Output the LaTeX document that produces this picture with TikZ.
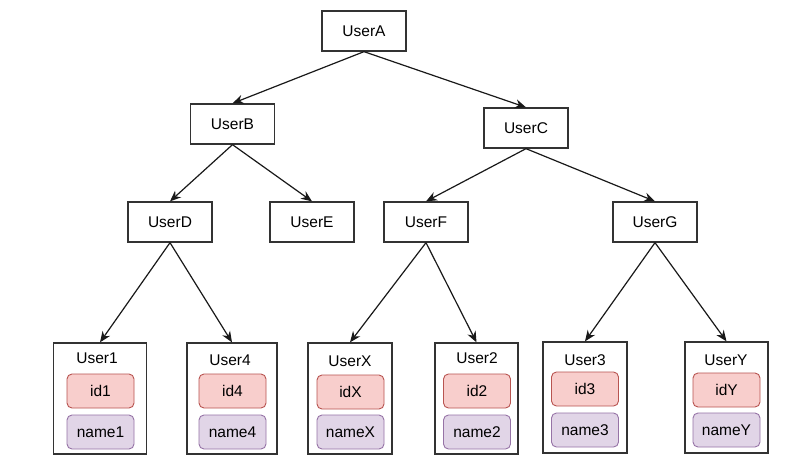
\documentclass[tikz,border=0pt]{standalone}
\usepackage{fontspec}
\setmainfont{Liberation Sans}
\usetikzlibrary{arrows.meta}
\definecolor{idfill}{HTML}{F8CECC}
\definecolor{iddraw}{HTML}{B85450}
\definecolor{nmfill}{HTML}{E1D5E7}
\definecolor{nmdraw}{HTML}{9673A6}
\begin{document}
\begin{tikzpicture}[x=1pt,y=-1pt,
  font=\fontsize{15.5}{18}\selectfont,
  usr/.style={draw=black!80, line width=1.3pt, fill=white, minimum width=84pt, minimum height=40pt, inner sep=0pt},
  leafbox/.style={draw=black!80, line width=1.3pt, fill=white, minimum height=111pt, inner sep=0pt},
  lbl/.style={inner sep=0pt},
  idb/.style={draw=iddraw, fill=idfill, line width=0.9pt, rounded corners=5pt, minimum width=67pt, minimum height=34pt, inner sep=0pt},
  nmb/.style={draw=nmdraw, fill=nmfill, line width=0.9pt, rounded corners=5pt, minimum width=67pt, minimum height=34pt, inner sep=0pt},
  arr/.style={-{Stealth[length=11pt,width=9pt]}, line width=1.2pt, black!90}]
\useasboundingbox[fill=white] (0,0) rectangle (800,472);

% internal nodes
\node[usr] (A) at (364,31) {UserA};
\node[usr] (B) at (232.5,124) {UserB};
\node[usr] (C) at (526,128) {UserC};
\node[usr] (D) at (170,222) {UserD};
\node[usr] (E) at (312,222) {UserE};
\node[usr] (F) at (426,222) {UserF};
\node[usr] (G) at (655,222) {UserG};

% leaves
\node[leafbox, minimum width=93pt] (L1) at (100,398.5) {};
\node[lbl] (L1t) at (97,358) {User1};
\node[idb] (L1i) at (100.5,391) {id1};
\node[nmb] (L1n) at (100.5,432) {name1};

\node[leafbox, minimum width=90pt] (L4) at (232,398.5) {};
\node[lbl] (L4t) at (230,360) {User4};
\node[idb] (L4i) at (232.5,391) {id4};
\node[nmb] (L4n) at (232.5,432) {name4};

\node[leafbox, minimum width=84pt] (LX) at (350,398.5) {};
\node[lbl] (LXt) at (350,361) {UserX};
\node[idb] (LXi) at (350.5,392) {idX};
\node[nmb] (LXn) at (350.5,432) {nameX};

\node[leafbox, minimum width=83pt] (L2) at (476.5,398.5) {};
\node[lbl] (L2t) at (477,358) {User2};
\node[idb] (L2i) at (477,391) {id2};
\node[nmb] (L2n) at (477,432) {name2};

\node[leafbox, minimum width=84pt] (L3) at (585,397.5) {};
\node[lbl] (L3t) at (585,360) {User3};
\node[idb] (L3i) at (585,389) {id3};
\node[nmb] (L3n) at (585,430) {name3};

\node[leafbox, minimum width=83pt] (LY) at (726.5,397.5) {};
\node[lbl] (LYt) at (726,360) {UserY};
\node[idb] (LYi) at (726.5,390) {idY};
\node[nmb] (LYn) at (726.5,430) {nameY};

% connectors
\draw[arr] (A.south) -- (B.north);
\draw[arr] (A.south) -- (C.north);
\draw[arr] (B.south) -- (D.north);
\draw[arr] (B.south) -- (E.north);
\draw[arr] (C.south) -- (F.north);
\draw[arr] (C.south) -- (G.north);
\draw[arr] (D.south) -- (L1.north);
\draw[arr] (D.south) -- (L4.north);
\draw[arr] (F.south) -- (LX.north);
\draw[arr] (F.south) -- (L2.north);
\draw[arr] (G.south) -- (L3.north);
\draw[arr] (G.south) -- (LY.north);
\end{tikzpicture}
\end{document}
